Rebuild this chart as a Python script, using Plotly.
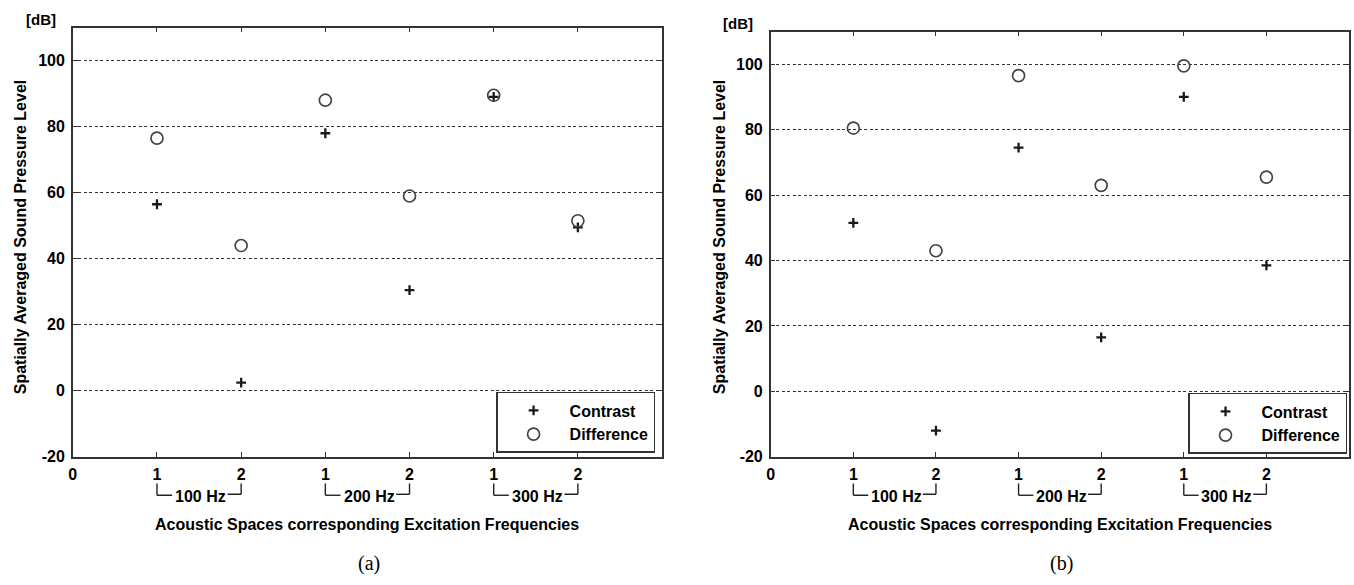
import plotly.graph_objects as go

# ---- data ----
positions = [1, 2, 3, 4, 5, 6]
tick_vals = [0, 1, 2, 3, 4, 5, 6]
tick_text = ["0", "1", "2", "1", "2", "1", "2"]
groups = ["100 Hz", "200 Hz", "300 Hz"]
group_pos = [(1, 2), (3, 4), (5, 6)]

contrast_a = [56.5, 2.5, 78.0, 30.5, 89.0, 49.5]
difference_a = [76.5, 44.0, 88.0, 59.0, 89.5, 51.5]
contrast_b = [51.5, -12.0, 74.5, 16.5, 90.0, 38.5]
difference_b = [80.5, 43.0, 96.5, 63.0, 99.5, 65.5]

y_ticks = [-20, 0, 20, 40, 60, 80, 100]

W, H = 1354, 585
FONT = "Liberation Sans"


def px(x):
    return x / W


def py(y):
    return 1 - y / H


def b(s):
    return "<b>" + s + "</b>"


fig = go.Figure()

plus_marker = dict(symbol="cross-thin", size=7, line=dict(width=2.3, color="#1a1a1a"), color="#1a1a1a")
circ_marker = dict(symbol="circle-open", size=12, line=dict(width=1.7, color="#444444"), color="#444444")

fig.add_trace(go.Scatter(x=positions, y=contrast_a, mode="markers", name=b("Contrast"),
                         marker=plus_marker, xaxis="x", yaxis="y", legend="legend"))
fig.add_trace(go.Scatter(x=positions, y=difference_a, mode="markers", name=b("Difference"),
                         marker=circ_marker, xaxis="x", yaxis="y", legend="legend"))
fig.add_trace(go.Scatter(x=positions, y=contrast_b, mode="markers", name=b("Contrast"),
                         marker=plus_marker, xaxis="x2", yaxis="y2", legend="legend2"))
fig.add_trace(go.Scatter(x=positions, y=difference_b, mode="markers", name=b("Difference"),
                         marker=circ_marker, xaxis="x2", yaxis="y2", legend="legend2"))

panels = [
    dict(l=69, r=660, t=28, b=464, label="(a)", dbx=37, dby=20, ytx=16),
    dict(l=769, r=1349, t=32, b=464, label="(b)", dbx=736, dby=24, ytx=717),
]

axis_common = dict(
    showline=True, linecolor="#333333", linewidth=1.5, mirror="ticks",
    ticks="inside", ticklen=5, tickcolor="#333333", tickwidth=1.3,
    tickfont=dict(family=FONT, size=16, color="black"),
    zeroline=False,
)

layout_axes = {}
for i, p in enumerate(panels):
    sx = "" if i == 0 else str(i + 1)
    layout_axes["xaxis" + sx] = dict(
        axis_common, domain=[px(p["l"]), px(p["r"])], range=[0, 7],
        tickvals=tick_vals, ticktext=[b(t) for t in tick_text], showgrid=False,
        anchor="y" + sx, ticklabelstandoff=2,
    )
    layout_axes["yaxis" + sx] = dict(
        axis_common, domain=[py(p["b"]), py(p["t"])], range=[-20, 110],
        tickvals=y_ticks, ticktext=[b(str(v)) for v in y_ticks],
        showgrid=True, gridcolor="#333333", gridwidth=1.1,
        griddash="3px,2.5px", anchor="x" + sx, ticklabelstandoff=3,
    )

fig.update_layout(**layout_axes)

shapes = []
annotations = []
bracket_top, bracket_y = 491, 503
for i, p in enumerate(panels):
    xr = "x" if i == 0 else "x2"
    for name, (a, bb) in zip(groups, group_pos):
        lw = dict(color="#222222", width=1.4)
        shapes += [
            dict(type="line", xref=xr, yref="paper", x0=a, x1=a, y0=py(bracket_top), y1=py(bracket_y), line=lw),
            dict(type="line", xref=xr, yref="paper", x0=a, x1=a + 0.18, y0=py(bracket_y), y1=py(bracket_y), line=lw),
            dict(type="line", xref=xr, yref="paper", x0=bb - 0.16, x1=bb, y0=py(bracket_y - 1), y1=py(bracket_y - 1), line=lw),
            dict(type="line", xref=xr, yref="paper", x0=bb, x1=bb, y0=py(bracket_top), y1=py(bracket_y - 1), line=lw),
        ]
        annotations.append(dict(text=b(name), x=(a + bb) / 2 + 0.02, xref=xr, y=py(bracket_y + 1), yref="paper",
                                showarrow=False, xanchor="center", yanchor="middle",
                                font=dict(family=FONT, size=16, color="black")))
    cx = (p["l"] + p["r"]) / 2
    annotations.append(dict(text=b("Acoustic Spaces corresponding Excitation Frequencies"),
                            x=px(cx), y=py(533), xref="paper", yref="paper", showarrow=False,
                            xanchor="center", yanchor="middle",
                            font=dict(family=FONT, size=16, color="black")))
    annotations.append(dict(text=b("Spatially Averaged Sound Pressure Level"), textangle=-90,
                            x=px(p["ytx"]), y=py(240), xref="paper", yref="paper",
                            showarrow=False, xanchor="center", yanchor="middle",
                            font=dict(family=FONT, size=16, color="black")))
    annotations.append(dict(text=b("[dB]"), x=px(p["dbx"]), y=py(p["dby"]), xref="paper", yref="paper",
                            showarrow=False, xanchor="center", yanchor="middle",
                            font=dict(family=FONT, size=15, color="black")))
    annotations.append(dict(text=p["label"], x=px(cx + 2), y=py(572), xref="paper", yref="paper",
                            showarrow=False, xanchor="center", yanchor="middle",
                            font=dict(family="Liberation Serif", size=20, color="black")))

legend_common = dict(
    bgcolor="white", bordercolor="#333333", borderwidth=1.5,
    font=dict(family=FONT, size=16, color="black"),
    itemwidth=62, xanchor="right", yanchor="bottom", tracegroupgap=0,
)

fig.update_layout(
    width=W, height=H,
    margin=dict(l=0, r=0, t=0, b=0),
    paper_bgcolor="white", plot_bgcolor="white",
    shapes=shapes, annotations=annotations,
    showlegend=True,
    legend=dict(legend_common, x=px(653), y=py(460)),
    legend2=dict(legend_common, x=px(1347), y=py(461)),
)

fig.write_html("out.html")
